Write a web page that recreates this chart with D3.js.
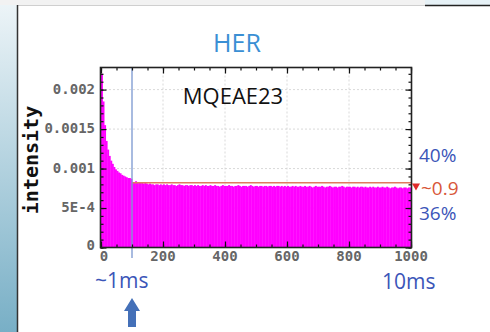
<!DOCTYPE html>
<html>
<head>
<meta charset="utf-8">
<script src="https://cdn.jsdelivr.net/npm/d3@7"></script>
<style>
  body { margin: 0; background: #fff; }
  svg { display: block; }
</style>
</head>
<body>
<svg id="chart" width="490" height="332"></svg>
<script>
"use strict";

// histogram bins of width 5 (turn number 0..1000), values in units of 1e-5
var binWidth = 5;
var intensityE5 = [
    220, 185, 155, 135, 124, 116, 110, 106, 102, 99, 97, 95, 94, 92, 91, 90, 89, 88, 88, 87,
    83, 83, 84, 82, 83, 82, 82, 81, 82, 81, 80, 81, 80, 80, 79, 80, 80, 79, 80, 79,
    80, 79, 80, 79, 79, 80, 79, 79, 78, 79, 80, 79, 79, 78, 79, 79, 78, 79, 79, 78,
    79, 78, 79, 78, 78, 79, 78, 79, 78, 78, 79, 78, 78, 79, 78, 78, 77, 78, 79, 78,
    78, 78, 79, 78, 78, 77, 78, 78, 79, 78, 77, 78, 78, 78, 77, 78, 79, 78, 77, 78,
    78, 77, 78, 78, 77, 78, 78, 77, 78, 78, 77, 78, 77, 78, 78, 77, 78, 77, 78, 77,
    78, 77, 77, 78, 77, 78, 77, 77, 78, 77, 77, 78, 77, 77, 78, 77, 76, 77, 78, 77,
    77, 77, 78, 77, 76, 77, 77, 78, 77, 76, 77, 77, 76, 77, 77, 78, 77, 76, 77, 77,
    77, 76, 77, 77, 76, 77, 76, 77, 77, 76, 77, 76, 76, 77, 76, 77, 76, 76, 77, 76,
    76, 77, 76, 76, 77, 76, 75, 76, 76, 77, 76, 75, 76, 76, 75, 76, 76, 75, 76, 76
];
var xTicks = [0, 200, 400, 600, 800, 1000];
var yTicks = [0, 0.0005, 0.001, 0.0015, 0.002];
var yTickLabels = ["0", "5E-4", "0.001", "0.0015", "0.002"];
var markerTurn = 100;          // ~1ms
var plateauLevel = 0.00082;    // ~0.9 of the level at 1 ms

var svg = d3.select("#chart");

// slide decoration
var grad = svg.append("defs").append("linearGradient")
    .attr("id", "sideGrad").attr("x1", 0).attr("y1", 0).attr("x2", 0).attr("y2", 1);
grad.append("stop").attr("offset", "0%").attr("stop-color", "#eef5f8");
grad.append("stop").attr("offset", "100%").attr("stop-color", "#78afc6");
svg.append("rect").attr("x", 0).attr("y", 0).attr("width", 17).attr("height", 332).attr("fill", "url(#sideGrad)");
svg.append("rect").attr("x", 0).attr("y", 0).attr("width", 490).attr("height", 5).attr("fill", "#f2f2f2");
svg.append("rect").attr("x", 425).attr("y", 0).attr("width", 65).attr("height", 5).attr("fill", "#e6f1f6");
svg.append("line").attr("x1", 17).attr("x2", 425).attr("y1", 5.5).attr("y2", 5.5).attr("stroke", "#cfcfcf");
svg.append("line").attr("x1", 425).attr("x2", 490).attr("y1", 5.5).attr("y2", 5.5).attr("stroke", "#222").attr("stroke-width", 1.5);
svg.append("line").attr("x1", 17.5).attr("x2", 17.5).attr("y1", 5).attr("y2", 332).attr("stroke", "#333").attr("stroke-width", 1.5);

var x = d3.scaleLinear().domain([0, 1000]).range([101, 411]);
var y = d3.scaleLinear().domain([0, 0.00228]).range([247.5, 67.5]);

// grid
var grid = svg.append("g").attr("stroke", "#cfcfcf").attr("stroke-dasharray", "2,2").attr("stroke-width", 0.8);
grid.selectAll("line.gx").data(xTicks.slice(1, -1)).enter().append("line")
    .attr("x1", function(d) { return x(d); }).attr("x2", function(d) { return x(d); })
    .attr("y1", y.range()[1]).attr("y2", y.range()[0]);
grid.selectAll("line.gy").data(yTicks.slice(1)).enter().append("line")
    .attr("y1", function(d) { return y(d); }).attr("y2", function(d) { return y(d); })
    .attr("x1", x.range()[0]).attr("x2", x.range()[1]);

// histogram
svg.append("g").selectAll("rect")
    .data(intensityE5)
    .enter()
    .append("rect")
      .attr("x", function(d, i) { return x(i * binWidth); })
      .attr("width", x(binWidth) - x(0) + 0.4)
      .attr("y", function(d) { return y(d * 1e-5); })
      .attr("height", function(d) { return y(0) - y(d * 1e-5); })
      .attr("fill", "#ff00ff");

// level line and 1ms marker
svg.append("line")
    .attr("x1", x(markerTurn)).attr("x2", x(1000))
    .attr("y1", y(plateauLevel)).attr("y2", y(plateauLevel))
    .attr("stroke", "#e07a5f").attr("stroke-width", 1.3);
svg.append("line")
    .attr("x1", x(markerTurn)).attr("x2", x(markerTurn))
    .attr("y1", y.range()[1]).attr("y2", 258)
    .attr("stroke", "#7f9bd2").attr("stroke-width", 1.5).attr("opacity", 0.9);

// axes (ticks inward on all four sides)
function drawAxis(axis, tx, ty) {
    var g = svg.append("g").attr("transform", "translate(" + tx + "," + ty + ")").call(axis);
    g.select(".domain").remove();
    g.selectAll("line").attr("stroke", "#111").attr("stroke-width", 1.2);
    return g;
}
var xMinor = d3.range(0, 1001, 50);
var yMinor = d3.range(0, 0.00228, 0.0001);

drawAxis(d3.axisTop(x).tickValues(xMinor).tickSize(3).tickFormat(""), 0, y(0));
drawAxis(d3.axisTop(x).tickValues(xTicks).tickSize(6).tickFormat(""), 0, y(0));
drawAxis(d3.axisBottom(x).tickValues(xMinor).tickSize(3).tickFormat(""), 0, y.range()[1]);
drawAxis(d3.axisBottom(x).tickValues(xTicks).tickSize(6).tickFormat(""), 0, y.range()[1]);
drawAxis(d3.axisRight(y).tickValues(yMinor).tickSize(3).tickFormat(""), x.range()[0] - 0.5, 0);
drawAxis(d3.axisRight(y).tickValues(yTicks).tickSize(6).tickFormat(""), x.range()[0] - 0.5, 0);
drawAxis(d3.axisLeft(y).tickValues(yMinor).tickSize(3).tickFormat(""), x.range()[1] + 0.5, 0);
drawAxis(d3.axisLeft(y).tickValues(yTicks).tickSize(6).tickFormat(""), x.range()[1] + 0.5, 0);

// frame
svg.append("rect")
    .attr("x", x.range()[0] - 0.5).attr("y", y.range()[1])
    .attr("width", x.range()[1] - x.range()[0] + 1).attr("height", y.range()[0] - y.range()[1])
    .attr("fill", "none").attr("stroke", "#222").attr("stroke-width", 1.6);

// tick labels
svg.append("g").selectAll("text")
    .data(xTicks).enter().append("text")
      .attr("x", function(d, i) { return x(d) + (i === 0 ? 3 : 0); })
      .attr("y", 261)
      .attr("text-anchor", "middle")
      .attr("font-family", "DejaVu Sans Mono")
      .attr("font-size", "14px")
      .attr("font-weight", "bold")
      .attr("fill", "#666")
      .text(function(d) { return d; });
svg.append("g").selectAll("text")
    .data(yTicks).enter().append("text")
      .attr("x", 95)
      .attr("y", function(d, i) { return y(d) + (i === 0 ? 2 : 4); })
      .attr("text-anchor", "end")
      .attr("font-family", "DejaVu Sans Mono")
      .attr("font-size", "14px")
      .attr("font-weight", "bold")
      .attr("fill", "#666")
      .text(function(d, i) { return yTickLabels[i]; });

svg.append("text")
    .attr("transform", "translate(38,160) rotate(-90)")
    .attr("text-anchor", "middle")
    .attr("font-family", "DejaVu Sans Mono")
    .attr("font-size", "20px")
    .attr("font-weight", "bold")
    .attr("fill", "#111")
    .text("intensity");

// titles and annotations
function note(txt, px, py, size, color, anchor) {
    svg.append("text").attr("x", px).attr("y", py)
        .attr("font-family", "Open Sans, Liberation Sans, sans-serif")
        .attr("font-size", size + "px")
        .attr("fill", color)
        .attr("text-anchor", anchor || "start")
        .text(txt);
}
note("HER", 237, 52, 25, "#3a8fd4", "middle");
note("MQEAE23", 233, 104, 22, "#111", "middle");
note("40%", 419, 162, 19, "#3b55b8");
note("~0.9", 421, 195, 19, "#d8573a");
note("36%", 419, 220, 19, "#3b55b8");
note("~1ms", 95, 288, 21, "#3b55b8");
note("10ms", 382, 289, 21, "#3b55b8");

// red marker triangle at plateau level
svg.append("path")
    .attr("d", d3.symbol().type(d3.symbolTriangle).size(28))
    .attr("transform", "translate(416," + (y(plateauLevel) + 3) + ") rotate(180)")
    .attr("fill", "#e02a2a");

// blue arrow under the 1 ms marker
var ax = x(markerTurn);
svg.append("path")
    .attr("d", "M " + (ax - 8) + " 311 L " + ax + " 298 L " + (ax + 8) + " 311 " +
               "L " + (ax + 4) + " 311 L " + (ax + 4) + " 327 L " + (ax - 4) + " 327 " +
               "L " + (ax - 4) + " 311 Z")
    .attr("fill", "#4470b8");
</script>
</body>
</html>
